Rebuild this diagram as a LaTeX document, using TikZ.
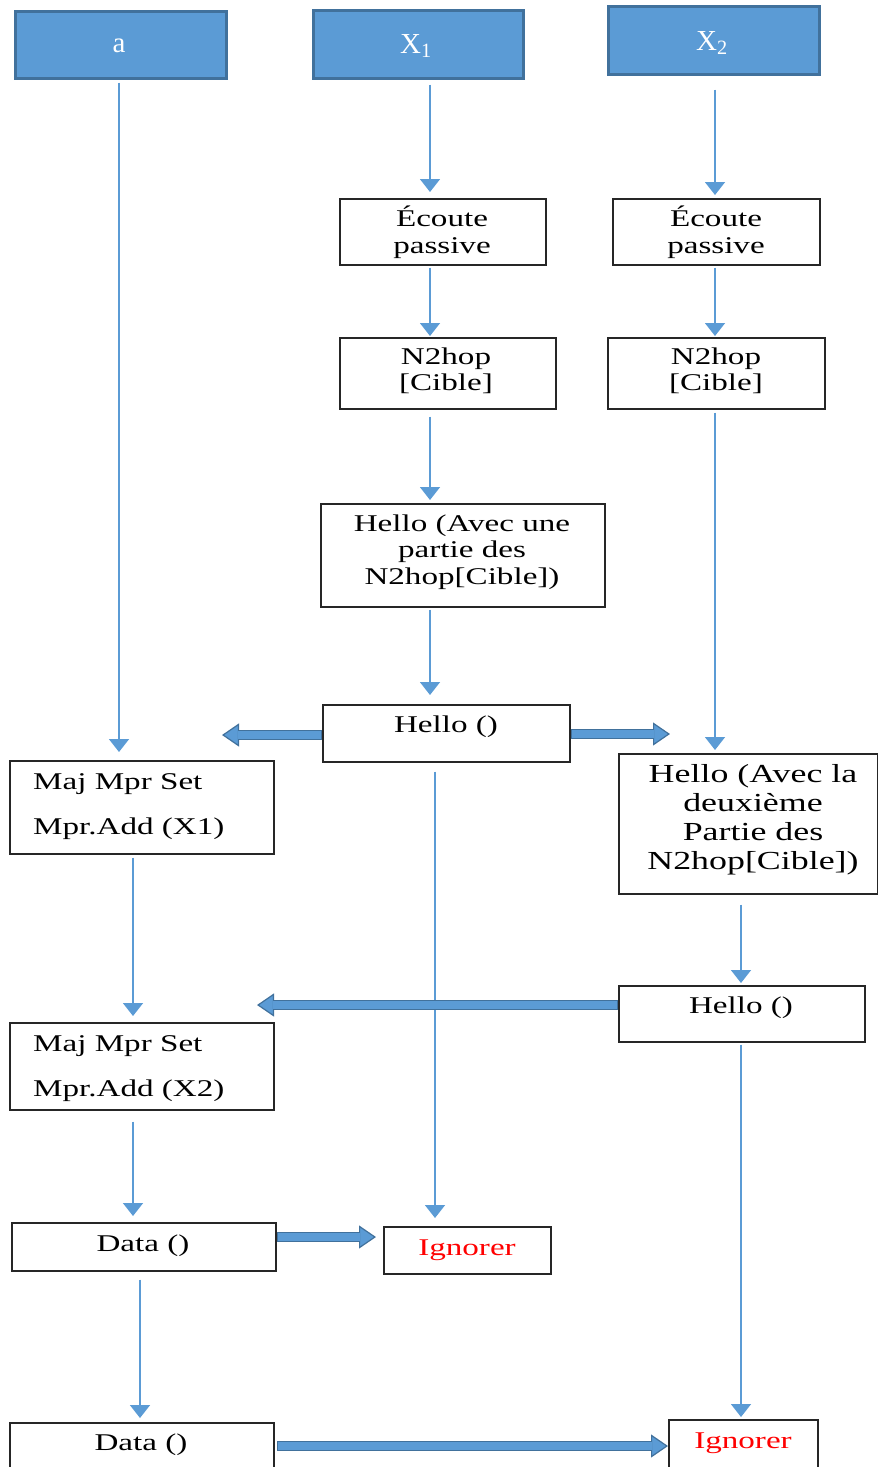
\documentclass[tikz,border=0pt]{standalone}
\usepackage{fontspec}
\setmainfont{Liberation Serif}[FakeStretch=1.38]
\newfontfamily\hdrfont{Liberation Serif}
\usetikzlibrary{arrows.meta}
\definecolor{blu}{HTML}{5B9BD5}
\definecolor{bord}{HTML}{41719C}
\definecolor{redtxt}{HTML}{FF0000}
\begin{document}
\begin{tikzpicture}[x=1pt,y=-1pt,
  hdr/.style={draw=bord, line width=2.5pt, fill=blu, anchor=north west, inner sep=0pt},
  box/.style={draw=black!85, line width=1.6pt, anchor=north west, inner sep=0pt, fill=white},
  txt/.style={align=center, inner sep=0pt, font=\fontsize{24}{26.5}\selectfont},
  bigtxt/.style={align=center, inner sep=0pt, font=\fontsize{26}{29}\selectfont},
  htxt/.style={inner sep=0pt, text=white, font=\hdrfont\fontsize{29}{32}\selectfont},
  thinarr/.style={draw=blu, line width=1.6pt, -{Triangle[length=13pt,width=20pt]}},
  thickout/.style={draw=bord, line width=10pt, -{Triangle[length=17pt,width=23pt,line width=1.2pt,fill=blu]}},
  thickin/.style={draw=blu, line width=7.5pt, shorten >=16pt, shorten <=1.2pt}]
\useasboundingbox (0,0) rectangle (878,1467);

% header boxes
\node[hdr, minimum width=211pt, minimum height=67pt] (hA) at (14,10) {};
\node[hdr, minimum width=210pt, minimum height=68pt] (hX1) at (312,9) {};
\node[hdr, minimum width=211pt, minimum height=68pt] (hX2) at (607,5) {};
\node[htxt] (hAt) at (119,46) {a};
\node[htxt] (hX1t) at (416,46) {X\textsubscript{1}};
\node[htxt] (hX2t) at (712,43) {X\textsubscript{2}};

% boxes
\node[box, minimum width=206pt, minimum height=66pt] (e1) at (339,198) {};
\node[box, minimum width=207pt, minimum height=66pt] (e2) at (612,198) {};
\node[box, minimum width=216pt, minimum height=71pt] (n1) at (339,337) {};
\node[box, minimum width=217pt, minimum height=71pt] (n2) at (607,337) {};
\node[box, minimum width=284pt, minimum height=103pt] (h1) at (320,503) {};
\node[box, minimum width=247pt, minimum height=57pt] (h0) at (322,704) {};
\node[box, minimum width=264pt, minimum height=93pt] (m1) at (9,760) {};
\node[box, minimum width=259pt, minimum height=140pt] (h2) at (618,753) {};
\node[box, minimum width=246pt, minimum height=56pt] (hr) at (618,985) {};
\node[box, minimum width=264pt, minimum height=87pt] (m2) at (9,1022) {};
\node[box, minimum width=167pt, minimum height=47pt] (i1) at (383,1226) {};
\node[box, minimum width=264pt, minimum height=48pt] (d1) at (11,1222) {};
\node[box, minimum width=264pt, minimum height=60pt] (d2) at (9,1422) {};
\node[box, minimum width=149pt, minimum height=60pt] (i2) at (668,1419) {};

% texts
\node[txt] (e1t) at (442,232) {Écoute\\passive};
\node[txt] (e2t) at (716,232) {Écoute\\passive};
\node[txt] (n1t) at (446,371) {N2hop\\{}[Cible]};
\node[txt] (n2t) at (716,371) {N2hop\\{}[Cible]};
\node[txt] (h1t) at (462,552) {Hello (Avec une\\partie des\\N2hop[Cible])};
\node[txt] (h0t) at (446,727) {Hello ()};
\node[txt, anchor=west] (m1a) at (33,784) {Maj Mpr Set};
\node[txt, anchor=west] (m1b) at (33,829) {Mpr.Add (X1)};
\node[bigtxt] (h2t) at (753,820) {Hello (Avec la\\deuxième\\Partie des\\N2hop[Cible])};
\node[txt] (hrt) at (741,1008) {Hello ()};
\node[txt, anchor=west] (m2a) at (33,1046) {Maj Mpr Set};
\node[txt, anchor=west] (m2b) at (33,1091) {Mpr.Add (X2)};
\node[txt] (d1t) at (143,1246) {Data ()};
\node[txt, text=redtxt] (i1t) at (467,1250) {Ignorer};
\node[txt] (d2t) at (141,1445) {Data ()};
\node[txt, text=redtxt] (i2t) at (743,1443) {Ignorer};

% column coordinates
\coordinate (cA) at (119,0);
\coordinate (c1) at (430,0);
\coordinate (c2) at (715,0);
\coordinate (cM) at (133,0);
\coordinate (cD) at (140,0);
\coordinate (cI) at (435,0);
\coordinate (cR) at (741,0);

% thin arrows
\draw[thinarr, shorten <=3pt, shorten >=8pt] (hA.south -| cA) -- (m1.north -| cA);
\draw[thinarr, shorten <=5pt, shorten >=6pt] (hX1.south -| c1) -- (e1.north -| c1);
\draw[thinarr, shorten <=14pt, shorten >=3pt] (hX2.south -| c2) -- (e2.north -| c2);
\draw[thinarr, shorten <=2pt, shorten >=1pt] (e1.south -| c1) -- (n1.north -| c1);
\draw[thinarr, shorten <=2pt, shorten >=1pt] (e2.south -| c2) -- (n2.north -| c2);
\draw[thinarr, shorten <=7pt, shorten >=3pt] (n1.south -| c1) -- (h1.north -| c1);
\draw[thinarr, shorten <=3pt, shorten >=3pt] (n2.south -| c2) -- (h2.north -| c2);
\draw[thinarr, shorten <=2pt, shorten >=9pt] (h1.south -| c1) -- (h0.north -| c1);
\draw[thinarr, shorten <=3pt, shorten >=6pt] (m1.south -| cM) -- (m2.north -| cM);
\draw[thinarr, shorten <=9pt, shorten >=8pt] (h0.south -| cI) -- (i1.north -| cI);
\draw[thinarr, shorten <=10pt, shorten >=2pt] (h2.south -| cR) -- (hr.north -| cR);
\draw[thinarr, shorten <=2pt, shorten >=2pt] (hr.south -| cR) -- (i2.north -| cR);
\draw[thinarr, shorten <=11pt, shorten >=6pt] (m2.south -| cM) -- (d1.north -| cM);
\draw[thinarr, shorten <=8pt, shorten >=4pt] (d1.south -| cD) -- (d2.north -| cD);

% thick arrows
\coordinate (tL) at (222,735);
\coordinate (tR) at (670,734);
\coordinate (tM) at (257,1005);
\coordinate (sL) at (h0.west |- tL);
\coordinate (sR) at (h0.east |- tR);
\coordinate (sM) at (hr.west |- tM);
\coordinate (s1) at (277,1237);
\coordinate (t1) at (376,1237);
\coordinate (s2) at (277,1446);
\coordinate (t2) at (i2.west |- s2);

\foreach \a/\b in {sL/tL, sR/tR, sM/tM, s1/t1, s2/t2} {
  \draw[thickout] (\a) -- (\b);
  \draw[thickin] (\a) -- (\b);
}
\end{tikzpicture}
\end{document}
